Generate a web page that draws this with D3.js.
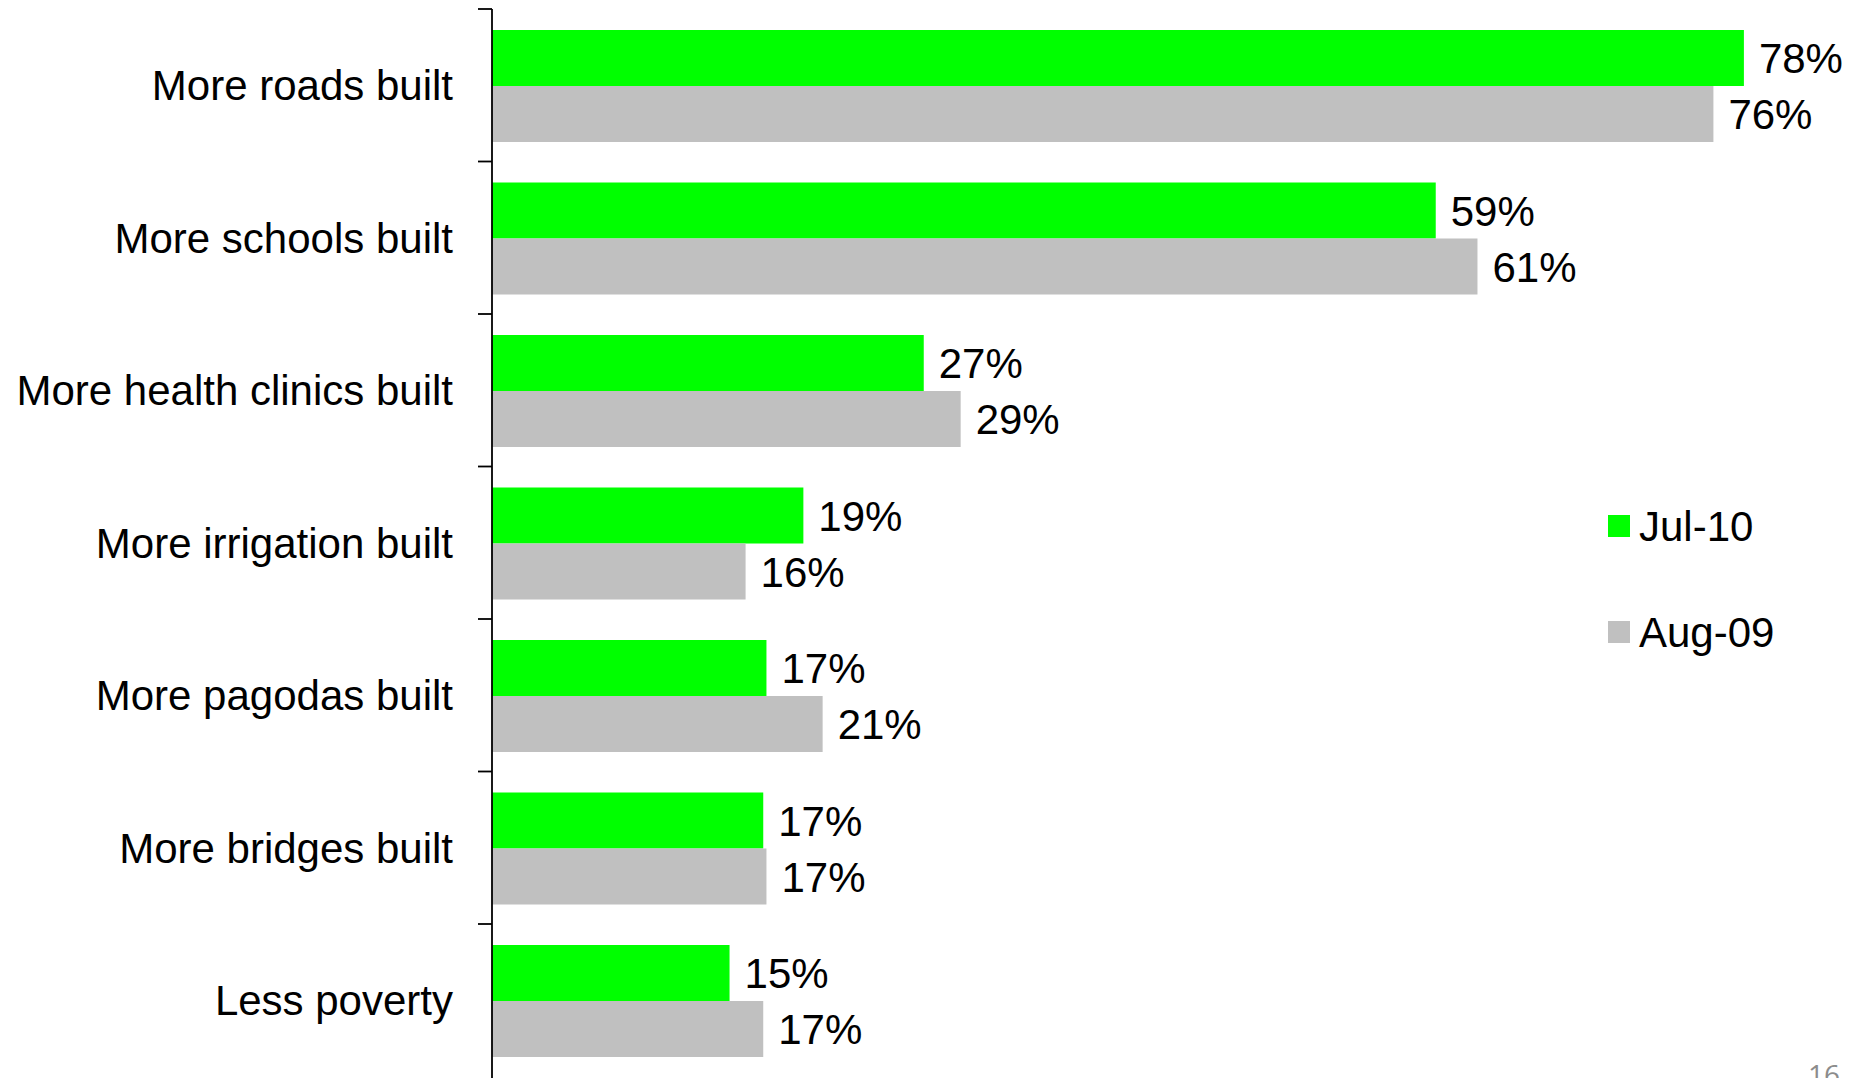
<!DOCTYPE html>
<html>
<head>
<meta charset="utf-8">
<script src="https://cdn.jsdelivr.net/npm/d3@7"></script>
<style>
  html, body { margin: 0; padding: 0; background: #fff; }
  svg { display: block; }
  text { font-family: "Liberation Sans", Arial, sans-serif; }
</style>
</head>
<body>
<script>
const categories = ["More roads built", "More schools built", "More health clinics built", "More irrigation built", "More pagodas built", "More bridges built", "Less poverty"];
const seriesNames = ["Jul-10", "Aug-09"];
// values; labels show them rounded
const jul10 = [78.0, 58.8, 26.9, 19.4, 17.1, 16.9, 14.8];
const aug09 = [76.1, 61.4, 29.2, 15.8, 20.6, 17.1, 16.9];
const colors = ["#00ff00", "#c0c0c0"];
const pageNumber = "16";

const W = 1852, H = 1078;
const svg = d3.select("body").append("svg").attr("width", W).attr("height", H);

const axisX = 492;
const y = d3.scaleBand().domain(categories).range([9, 9 + 152.5 * categories.length]).paddingInner(0).paddingOuter(0);
const x = d3.scaleLinear().domain([0, 100]).range([axisX, axisX + 1605]);
const sub = d3.scaleBand().domain(seriesNames).range([21, 21 + 112]);
const fmt = d3.format(".0f");

const data = categories.map((c, i) => ({ cat: c, vals: [jul10[i], aug09[i]] }));

// bars
const g = svg.append("g");
const groups = g.selectAll("g.grp").data(data).join("g").attr("class", "grp")
  .attr("transform", d => `translate(0,${y(d.cat)})`);
groups.selectAll("rect").data(d => d.vals.map((v, j) => ({ v, s: seriesNames[j], j })))
  .join("rect")
  .attr("x", x(0))
  .attr("y", d => sub(d.s))
  .attr("width", d => x(d.v) - x(0))
  .attr("height", sub.bandwidth())
  .attr("fill", d => colors[d.j]);
groups.selectAll("text.val").data(d => d.vals.map((v, j) => ({ v, s: seriesNames[j], j })))
  .join("text").attr("class", "val")
  .attr("x", d => x(d.v) + 15)
  .attr("y", d => sub(d.s) + sub.bandwidth() / 2)
  .attr("dy", "0.36em")
  .attr("font-size", 42)
  .attr("fill", "#000")
  .text(d => fmt(d.v) + "%");

// left axis with category labels
const axis = svg.append("g").attr("transform", `translate(${axisX},0)`)
  .call(d3.axisLeft(y).tickSize(0).tickPadding(39));
axis.select(".domain").remove();
axis.selectAll("text").attr("font-size", 42).attr("fill", "#000")
  .attr("font-family", "'Liberation Sans', Arial, sans-serif").attr("dy", "0.36em");

// axis line and boundary ticks
svg.append("line").attr("x1", axisX).attr("x2", axisX).attr("y1", 9).attr("y2", H)
  .attr("stroke", "#000").attr("stroke-width", 1.8);
const boundaries = categories.map(c => y(c));
svg.selectAll("line.tk").data(boundaries).join("line").attr("class", "tk")
  .attr("x1", axisX - 14).attr("x2", axisX).attr("y1", d => d).attr("y2", d => d)
  .attr("stroke", "#000").attr("stroke-width", 1.8);

// legend
const legend = svg.append("g");
const legY = [526, 632];
seriesNames.forEach((s, i) => {
  legend.append("rect").attr("x", 1608).attr("y", legY[i] - 11).attr("width", 22).attr("height", 22).attr("fill", colors[i]);
  legend.append("text").attr("x", 1639).attr("y", legY[i]).attr("dy", "0.36em")
    .attr("font-size", 42).attr("fill", "#000").text(s);
});

// page number (cut off at the bottom edge, as in the reference)
svg.append("text").attr("x", 1840).attr("y", 1085).attr("text-anchor", "end")
  .attr("font-size", 28).attr("fill", "#8c8c8c")
  .style("font-family", "'Open Sans', 'Noto Sans', sans-serif").text(pageNumber);
</script>
</body>
</html>
